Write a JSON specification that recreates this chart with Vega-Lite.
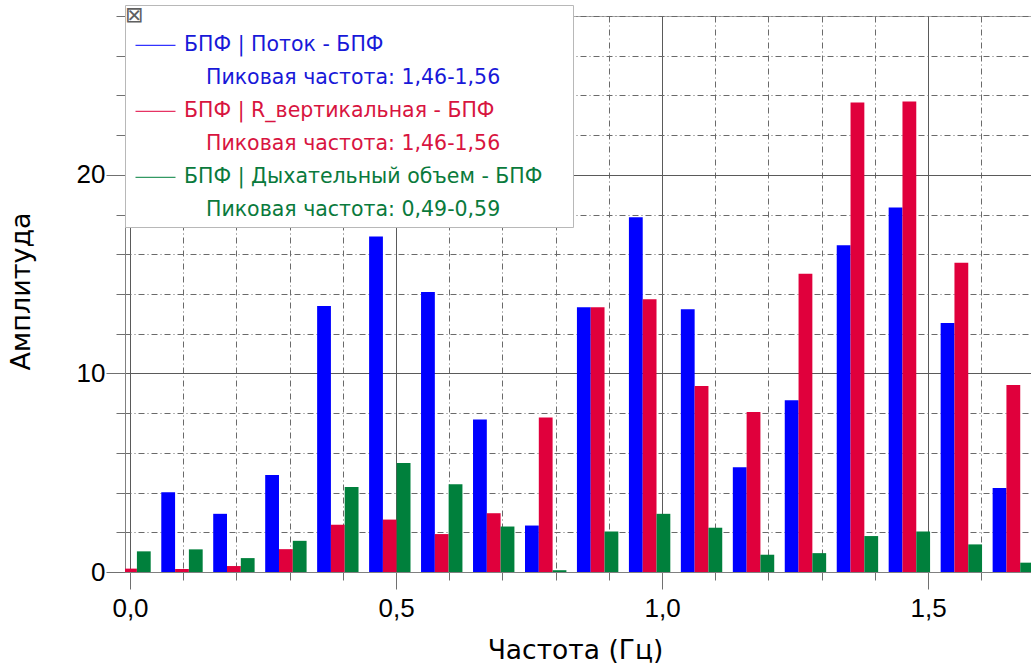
{
  "$schema": "https://vega.github.io/schema/vega-lite/v6.json",
  "width": 906,
  "height": 556,
  "autosize": {"type": "none"},
  "padding": {"left": 125, "top": 16, "right": 0, "bottom": 96},
  "background": "white",
  "config": {"view": {"stroke": "#a8a8a8", "strokeWidth": 1}},
  "data": {
    "values": [
      {"freq": 0.0, "series": "R_вертикальная", "amp": 0.17},
      {"freq": 0.0, "series": "Дыхательный объем", "amp": 1.04},
      {"freq": 0.0977, "series": "Поток", "amp": 4.01},
      {"freq": 0.0977, "series": "R_вертикальная", "amp": 0.15},
      {"freq": 0.0977, "series": "Дыхательный объем", "amp": 1.14},
      {"freq": 0.1953, "series": "Поток", "amp": 2.93},
      {"freq": 0.1953, "series": "R_вертикальная", "amp": 0.3},
      {"freq": 0.1953, "series": "Дыхательный объем", "amp": 0.7},
      {"freq": 0.293, "series": "Поток", "amp": 4.89},
      {"freq": 0.293, "series": "R_вертикальная", "amp": 1.15},
      {"freq": 0.293, "series": "Дыхательный объем", "amp": 1.57},
      {"freq": 0.3906, "series": "Поток", "amp": 13.4},
      {"freq": 0.3906, "series": "R_вертикальная", "amp": 2.38},
      {"freq": 0.3906, "series": "Дыхательный объем", "amp": 4.28},
      {"freq": 0.4883, "series": "Поток", "amp": 16.9},
      {"freq": 0.4883, "series": "R_вертикальная", "amp": 2.64},
      {"freq": 0.4883, "series": "Дыхательный объем", "amp": 5.49},
      {"freq": 0.5859, "series": "Поток", "amp": 14.1},
      {"freq": 0.5859, "series": "R_вертикальная", "amp": 1.91},
      {"freq": 0.5859, "series": "Дыхательный объем", "amp": 4.42},
      {"freq": 0.6836, "series": "Поток", "amp": 7.68},
      {"freq": 0.6836, "series": "R_вертикальная", "amp": 2.96},
      {"freq": 0.6836, "series": "Дыхательный объем", "amp": 2.29},
      {"freq": 0.7813, "series": "Поток", "amp": 2.34},
      {"freq": 0.7813, "series": "R_вертикальная", "amp": 7.78},
      {"freq": 0.7813, "series": "Дыхательный объем", "amp": 0.09},
      {"freq": 0.8789, "series": "Поток", "amp": 13.33},
      {"freq": 0.8789, "series": "R_вертикальная", "amp": 13.33},
      {"freq": 0.8789, "series": "Дыхательный объем", "amp": 2.04},
      {"freq": 0.9766, "series": "Поток", "amp": 17.86},
      {"freq": 0.9766, "series": "R_вертикальная", "amp": 13.73},
      {"freq": 0.9766, "series": "Дыхательный объем", "amp": 2.93},
      {"freq": 1.0742, "series": "Поток", "amp": 13.23},
      {"freq": 1.0742, "series": "R_вертикальная", "amp": 9.37},
      {"freq": 1.0742, "series": "Дыхательный объем", "amp": 2.23},
      {"freq": 1.1719, "series": "Поток", "amp": 5.27},
      {"freq": 1.1719, "series": "R_вертикальная", "amp": 8.06},
      {"freq": 1.1719, "series": "Дыхательный объем", "amp": 0.87},
      {"freq": 1.2695, "series": "Поток", "amp": 8.65},
      {"freq": 1.2695, "series": "R_вертикальная", "amp": 15.02},
      {"freq": 1.2695, "series": "Дыхательный объем", "amp": 0.95},
      {"freq": 1.3672, "series": "Поток", "amp": 16.46},
      {"freq": 1.3672, "series": "R_вертикальная", "amp": 23.65},
      {"freq": 1.3672, "series": "Дыхательный объем", "amp": 1.81},
      {"freq": 1.4648, "series": "Поток", "amp": 18.36},
      {"freq": 1.4648, "series": "R_вертикальная", "amp": 23.7},
      {"freq": 1.4648, "series": "Дыхательный объем", "amp": 2.04},
      {"freq": 1.5625, "series": "Поток", "amp": 12.54},
      {"freq": 1.5625, "series": "R_вертикальная", "amp": 15.57},
      {"freq": 1.5625, "series": "Дыхательный объем", "amp": 1.39},
      {"freq": 1.6602, "series": "Поток", "amp": 4.23},
      {"freq": 1.6602, "series": "R_вертикальная", "amp": 9.42},
      {"freq": 1.6602, "series": "Дыхательный объем", "amp": 0.47}
    ]
  },
  "encoding": {
    "x": {
      "field": "freq",
      "type": "quantitative",
      "scale": {"domain": [0, 1.684], "nice": false, "zero": false},
      "axis": {
        "values": [0, 0.1, 0.2, 0.3, 0.4, 0.5, 0.6, 0.7, 0.8, 0.9, 1.0, 1.1, 1.2, 1.3, 1.4, 1.5, 1.6],
        "labelExpr": "round(datum.value*10) % 5 == 0 ? replace(format(datum.value, '.1f'), '.', ',') : ''",
        "grid": true,
        "gridColor": {"condition": {"test": "round(datum.value*10) % 5 == 0", "value": "#5a5a5a"}, "value": "#6a6a6a"},
        "gridDash": {"condition": {"test": "round(datum.value*10) % 5 == 0", "value": []}, "value": [6, 3, 1, 3]},
        "gridWidth": 1,
        "tickSize": {"condition": {"test": "round(datum.value*10) % 5 == 0", "value": 17}, "value": 8},
        "tickColor": "#707070",
        "domainColor": "#808080",
        "labelFont": "Liberation Sans",
        "labelFontSize": 26,
        "labelColor": "black",
        "labelPadding": 6,
        "labelFlush": false,
        "labelOverlap": false,
        "labelBound": false,
        "title": "Частота (Гц)",
        "titleFont": "DejaVu Sans",
        "titleFontSize": 26.5,
        "titleFontWeight": "normal",
        "titleColor": "black",
        "titleX": 450,
        "titleY": 78,
        "titleBaseline": "middle"
      }
    },
    "y": {
      "field": "amp",
      "type": "quantitative",
      "scale": {"domain": [0, 28], "nice": false},
      "axis": {
        "values": [0, 2, 4, 6, 8, 10, 12, 14, 16, 18, 20, 22, 24, 26, 28],
        "labelExpr": "datum.value % 10 == 0 ? datum.label : ''",
        "grid": true,
        "gridColor": {"condition": {"test": "datum.value % 10 == 0", "value": "#5a5a5a"}, "value": "#6a6a6a"},
        "gridDash": {"condition": {"test": "datum.value % 10 == 0", "value": []}, "value": [6, 3, 1, 3]},
        "tickSize": {"condition": {"test": "datum.value % 10 == 0", "value": 19}, "value": 9},
        "tickColor": "#707070",
        "domainColor": "#808080",
        "labelFont": "Liberation Sans",
        "labelFontSize": 26,
        "labelColor": "black",
        "labelPadding": 1,
        "labelOverlap": false,
        "labelBound": false,
        "title": "Амплитуда",
        "titleFont": "DejaVu Sans",
        "titleFontSize": 27,
        "titleFontWeight": "normal",
        "titleColor": "black",
        "titleX": -104,
        "titleY": 275,
        "titleBaseline": "middle"
      }
    },
    "color": {
      "field": "series",
      "type": "nominal",
      "scale": {
        "domain": ["Поток", "Поток (пик)", "R_вертикальная", "R_вертикальная (пик)", "Дыхательный объем", "Дыхательный объем (пик)"],
        "range": ["#0000ff", "transparent", "#e0003c", "transparent", "#00803c", "transparent"]
      },
      "legend": {
        "orient": "none",
        "legendX": 0,
        "legendY": -11,
        "title": "⊠",
        "titleFont": "DejaVu Sans",
        "titleFontSize": 22,
        "titleFontWeight": "normal",
        "titleColor": "#606060",
        "titlePadding": 2,
        "padding": 0,
        "fillColor": "white",
        "strokeColor": "#b8b8b8",
        "symbolType": "stroke",
        "symbolSize": 1600,
        "symbolStrokeWidth": 1,
        "symbolOffset": 10,
        "labelOffset": 8,
        "labelFont": "DejaVu Sans",
        "labelFontSize": 20.5,
        "labelLimit": 700,
        "clipHeight": 32.6,
        "rowPadding": 0,
        "labelExpr": "datum.value == 'Поток' ? 'БПФ | Поток - БПФ' : datum.value == 'R_вертикальная' ? 'БПФ | R_вертикальная - БПФ' : datum.value == 'Дыхательный объем' ? 'БПФ | Дыхательный объем - БПФ\u2800\u2800' : datum.value == 'Дыхательный объем (пик)' ? 'Пиковая частота: 0,49-0,59' : 'Пиковая частота: 1,46-1,56'",
        "encode": {
          "symbols": {"update": {"stroke": {"scale": "color", "field": "value"}, "fill": {"value": "transparent"}}},
          "labels": {"update": {
            "dx": {"signal": "indexof(datum.value, '(пик)') >= 0 ? 22 : 0"},
            "fill": {"signal": "(datum.value == 'Поток' || datum.value == 'Поток (пик)') ? '#1818d8' : (datum.value == 'R_вертикальная' || datum.value == 'R_вертикальная (пик)') ? '#d8143f' : '#0a7a3c'"}
          }}
        }
      }
    }
  },
  "layer": [
    {
      "transform": [{"filter": "datum.series == 'Поток'"}],
      "mark": {"type": "bar", "width": 13.8, "xOffset": -13.8, "clip": true}
    },
    {
      "transform": [{"filter": "datum.series == 'R_вертикальная'"}],
      "mark": {"type": "bar", "width": 13.8, "clip": true}
    },
    {
      "transform": [{"filter": "datum.series == 'Дыхательный объем'"}],
      "mark": {"type": "bar", "width": 13.8, "xOffset": 13.8, "clip": true}
    }
  ]
}
